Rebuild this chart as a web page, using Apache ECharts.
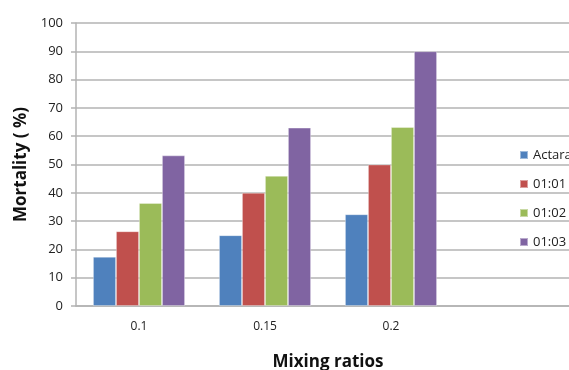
<!DOCTYPE html>
<html>
<head>
<meta charset="utf-8">
<script src="https://cdn.jsdelivr.net/npm/echarts@6/dist/echarts.min.js"></script>
<style>html,body{margin:0;padding:0;background:#fff}#c{width:569px;height:370px}</style>
</head>
<body>
<div id="c"></div>
<script>
var categories = ['0.1', '0.15', '0.2', ''];
var seriesNames = ['Actara', '01:01', '01:02', '01:03'];
var actara = [17.4, 25, 32.4, null];
var r0101 = [26.4, 40, 50, null];
var r0102 = [36.4, 46, 63.2, null];
var r0103 = [53.2, 63, 90, null];
var yTicks = [0, 10, 20, 30, 40, 50, 60, 70, 80, 90, 100];
var colors = ['#4F81BD', '#C0504D', '#9BBB59', '#8064A2'];
var values = [actara, r0101, r0102, r0103];

var chart = echarts.init(document.getElementById('c'), null, {renderer: 'canvas'});
var font = 'Open Sans';
chart.setOption({
  animation: false,
  color: colors,
  textStyle: {fontFamily: font},
  grid: {left: 76, right: -11, top: 23, bottom: 64, containLabel: false, outerBoundsMode: 'none'},
  legend: {
    orient: 'vertical',
    left: 514, top: 143,
    itemWidth: 8, itemHeight: 8,
    itemGap: 15,
    icon: 'rect',
    textStyle: {fontFamily: font, fontSize: 13, color: '#222', lineHeight: 14},
    data: seriesNames
  },
  xAxis: {
    type: 'category',
    data: categories,
    name: 'Mixing ratios',
    nameLocation: 'middle',
    nameGap: 48,
    nameTextStyle: {fontFamily: font, fontSize: 17, fontWeight: 'bold', color: '#111'},
    axisLine: {lineStyle: {color: '#B3B3B3', width: 1.5}},
    axisTick: {show: false},
    axisLabel: {fontSize: 12, color: '#222', margin: 15}
  },
  yAxis: {
    type: 'value',
    min: 0, max: 100, interval: 10,
    name: 'Mortality ( %)',
    nameLocation: 'middle',
    nameGap: 42,
    nameTextStyle: {fontFamily: font, fontSize: 17, fontWeight: 'bold', color: '#111'},
    axisLine: {show: true, lineStyle: {color: '#B3B3B3', width: 1.5}},
    axisTick: {show: true, length: 5, lineStyle: {color: '#B3B3B3', width: 1.5}},
    axisLabel: {fontSize: 13, color: '#222', margin: 13,
      formatter: function (v) { return yTicks.indexOf(v) >= 0 ? String(v) : ''; }},
    splitLine: {lineStyle: {color: '#B3B3B3', width: 1.5}}
  },
  series: seriesNames.map(function (n, i) {
    return {
      name: n, type: 'bar', data: values[i],
      barGap: '0%', barCategoryGap: '27%',
      itemStyle: {color: colors[i], borderColor: 'rgba(255,255,255,0.45)', borderWidth: 0.8}
    };
  })
});
</script>
</body>
</html>
